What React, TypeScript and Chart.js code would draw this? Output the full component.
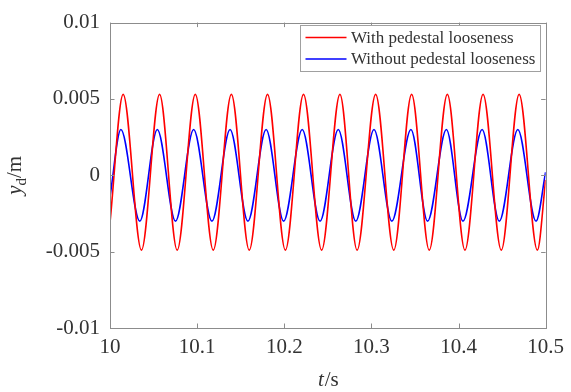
import React, { useEffect, useRef } from "react";
import { Chart, registerables } from "chart.js";

Chart.register(...registerables);

// Red: "With pedestal looseness" — start, alternating peaks/troughs, end
const redT = [
  10, 10.0151, 10.0361, 10.0569, 10.0771, 10.0979, 10.1185, 10.1393, 10.1598,
  10.1808, 10.2013, 10.2221, 10.2429, 10.2639, 10.2836, 10.3049, 10.3257,
  10.3462, 10.3664, 10.3872, 10.4074, 10.4282, 10.4491, 10.4696, 10.4905, 10.5,
];
const redY = [
  -0.0031, 0.0053, -0.0049, 0.0053, -0.0049, 0.0053, -0.0049, 0.0053, -0.0049,
  0.0053, -0.0049, 0.0053, -0.0049, 0.0053, -0.0049, 0.0053, -0.0049,
  0.0053, -0.0049, 0.0053, -0.0049, 0.0053, -0.0049, 0.0053, -0.0049, -0.0003,
];

// Blue: "Without pedestal looseness"
const blueT = [
  10, 10.0125, 10.0342, 10.0543, 10.0752, 10.096, 10.117, 10.1378, 10.1583,
  10.1792, 10.1993, 10.2206, 10.2411, 10.262, 10.2821, 10.303, 10.3235,
  10.3454, 10.3645, 10.3861, 10.4051, 10.4271, 10.4468, 10.4681, 10.489, 10.5,
];
const blueY = [
  -0.0014, 0.003, -0.003, 0.003, -0.003, 0.003, -0.003, 0.003, -0.003,
  0.003, -0.003, 0.003, -0.003, 0.003, -0.003, 0.003, -0.003,
  0.003, -0.003, 0.003, -0.003, 0.003, -0.003, 0.003, -0.003, 0.0002,
];

const xTicks = [10, 10.1, 10.2, 10.3, 10.4, 10.5];
const xTickLabels = ["10", "10.1", "10.2", "10.3", "10.4", "10.5"];
const yTicks = [-0.01, -0.005, 0, 0.005, 0.01];
const yTickLabels = ["-0.01", "-0.005", "0", "0.005", "0.01"];

const seriesNames = ["With pedestal looseness", "Without pedestal looseness"];
const seriesColors = ["#ff0000", "#0000ff"];

const SERIF = '"Liberation Serif", "Times New Roman", serif';
const TEXT = "#333333";
const AXIS = "#8c8c8c";

const decorPlugin = {
  id: "decor",
  afterDraw(chart: any) {
    const ctx = chart.ctx as CanvasRenderingContext2D;
    const a = chart.chartArea;
    const xs = chart.scales.x;
    const ys = chart.scales.y;
    ctx.save();
    // frame
    ctx.strokeStyle = AXIS;
    ctx.lineWidth = 1;
    ctx.strokeRect(Math.round(a.left) + 0.5, Math.round(a.top) + 0.5, Math.round(a.right - a.left), Math.round(a.bottom - a.top));
    // inward ticks
    const tl = 4.5;
    ctx.beginPath();
    xTicks.forEach((v) => {
      const px = Math.round(xs.getPixelForValue(v)) + 0.5;
      ctx.moveTo(px, a.bottom);
      ctx.lineTo(px, a.bottom - tl);
      ctx.moveTo(px, a.top);
      ctx.lineTo(px, a.top + tl);
    });
    yTicks.forEach((v) => {
      const py = Math.round(ys.getPixelForValue(v)) + 0.5;
      ctx.moveTo(a.left, py);
      ctx.lineTo(a.left + tl, py);
      ctx.moveTo(a.right, py);
      ctx.lineTo(a.right - tl, py);
    });
    ctx.stroke();

    // x title: t/s
    ctx.fillStyle = TEXT;
    ctx.textBaseline = "alphabetic";
    ctx.textAlign = "left";
    const fI = `italic 21px ${SERIF}`;
    const fN = `21px ${SERIF}`;
    const fS = `15px ${SERIF}`;
    ctx.font = fI;
    const wt = ctx.measureText("t").width;
    ctx.font = fN;
    const ws = ctx.measureText("/s").width;
    const cx = (a.left + a.right) / 2;
    const x0 = cx - (wt + ws) / 2;
    ctx.font = fI;
    ctx.fillText("t", x0, 386);
    ctx.font = fN;
    ctx.fillText("/s", x0 + wt + 1, 386);

    // y title: y_d/m rotated
    ctx.save();
    ctx.translate(21, (a.top + a.bottom) / 2);
    ctx.rotate(-Math.PI / 2);
    ctx.font = fI;
    const wy = ctx.measureText("y").width;
    ctx.font = fS;
    const wd = ctx.measureText("d").width;
    ctx.font = fN;
    const wm = ctx.measureText("/m").width;
    let s = -(wy + wd + wm) / 2;
    ctx.font = fI;
    ctx.fillText("y", s, 0);
    s += wy;
    ctx.font = fS;
    ctx.fillText("d", s, 5);
    s += wd;
    ctx.font = fN;
    ctx.fillText("/m", s, 0);
    ctx.restore();

    // legend
    const bx = 300.5, by = 25.5, bw = 240, bh = 46;
    ctx.fillStyle = "#ffffff";
    ctx.fillRect(bx, by, bw, bh);
    ctx.strokeStyle = "#a0a0a0";
    ctx.lineWidth = 1;
    ctx.strokeRect(bx, by, bw, bh);
    const rows = [37.5, 59];
    ctx.font = `17px ${SERIF}`;
    ctx.textBaseline = "middle";
    rows.forEach((ry, i) => {
      ctx.strokeStyle = seriesColors[i];
      ctx.lineWidth = 1.5;
      ctx.beginPath();
      ctx.moveTo(305.5, ry);
      ctx.lineTo(346.5, ry);
      ctx.stroke();
      ctx.fillStyle = TEXT;
      ctx.fillText(seriesNames[i], 351, ry + 1);
    });
    ctx.restore();
  },
};

export default function App() {
  const ref = useRef<HTMLCanvasElement>(null);
  useEffect(() => {
    if (!ref.current) return;
    const chart = new Chart(ref.current, {
      type: "line",
      data: {
        datasets: [
          {
            label: seriesNames[0],
            data: redT.map((t, i) => ({ x: t, y: redY[i] })),
            borderColor: seriesColors[0],
            borderWidth: 1.6,
            pointRadius: 0,
            cubicInterpolationMode: "monotone",
            fill: false,
          },
          {
            label: seriesNames[1],
            data: blueT.map((t, i) => ({ x: t, y: blueY[i] })),
            borderColor: seriesColors[1],
            borderWidth: 1.6,
            pointRadius: 0,
            cubicInterpolationMode: "monotone",
            fill: false,
          },
        ],
      },
      options: {
        responsive: false,
        animation: false,
        devicePixelRatio: 1,
        layout: { padding: { left: 0, top: 16, right: 22, bottom: 0 } },
        plugins: {
          legend: { display: false },
          tooltip: { enabled: false },
          title: { display: false },
        },
        scales: {
          x: {
            type: "linear",
            min: 10,
            max: 10.5,
            grid: { display: false, drawTicks: false },
            border: { display: false },
            afterFit: (s: any) => {
              s.height = 64;
            },
            afterBuildTicks: (s: any) => {
              s.ticks = xTicks.map((v) => ({ value: v }));
            },
            ticks: {
              padding: 7,
              maxRotation: 0,
              autoSkip: false,
              color: TEXT,
              font: { family: SERIF, size: 21 },
              callback: (v: any) => {
                const i = xTicks.findIndex((t) => Math.abs(t - v) < 1e-6);
                return i >= 0 ? xTickLabels[i] : "";
              },
            },
          },
          y: {
            type: "linear",
            min: -0.01,
            max: 0.01,
            grid: { display: false, drawTicks: false },
            border: { display: false },
            afterFit: (s: any) => {
              s.width = 110;
            },
            afterBuildTicks: (s: any) => {
              s.ticks = yTicks.map((v) => ({ value: v }));
            },
            ticks: {
              padding: 10,
              autoSkip: false,
              color: TEXT,
              font: { family: SERIF, size: 21 },
              callback: (v: any) => {
                const i = yTicks.findIndex((t) => Math.abs(t - v) < 1e-9);
                return i >= 0 ? yTickLabels[i] : "";
              },
            },
          },
        },
      },
      plugins: [decorPlugin],
    } as any);
    return () => chart.destroy();
  }, []);
  return (
    <div style={{ position: "absolute", left: 0, top: 0, width: 571, height: 392, background: "#fff" }}>
      <canvas ref={ref} width={571} height={392} style={{ display: "block" }} />
    </div>
  );
}
